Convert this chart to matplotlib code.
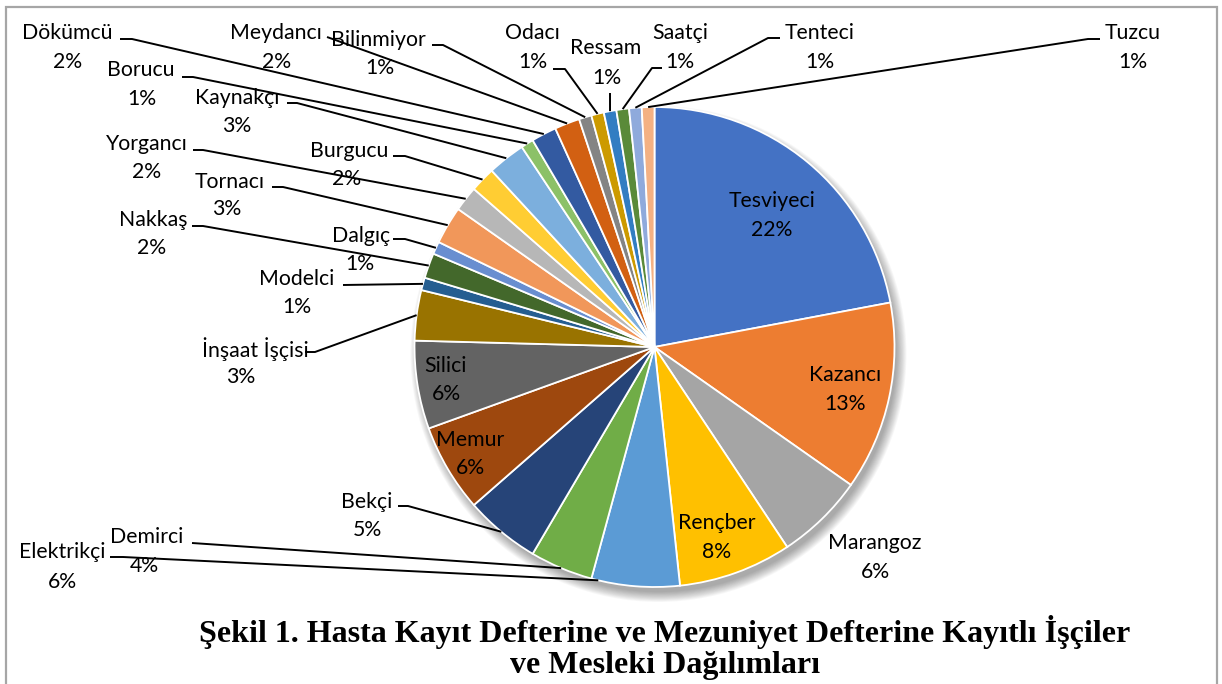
import matplotlib
matplotlib.use("Agg")
import matplotlib.pyplot as plt
from matplotlib.patches import Circle, Rectangle
import numpy as np

# ---------------- data ----------------
categories = ["Tesviyeci", "Kazancı", "Marangoz", "Rençber", "Elektrikçi", "Demirci",
              "Bekçi", "Memur", "Silici", "İnşaat İşçisi", "Modelci", "Nakkaş", "Dalgıç",
              "Tornacı", "Yorgancı", "Burgucu", "Kaynakçı", "Borucu", "Dökümcü",
              "Meydancı", "Bilinmiyor", "Odacı", "Ressam", "Saatçi", "Tenteci", "Tuzcu"]
counts = [26, 15, 7, 9, 7, 5, 6, 7, 7, 4, 1, 2, 1, 3, 2, 2, 3, 1, 2, 2, 1, 1, 1, 1, 1, 1]
colors = ["#4472C4", "#ED7D31", "#A5A5A5", "#FFC000", "#5B9BD5", "#70AD47",
          "#264478", "#9E480E", "#636363", "#997300", "#255E91", "#43682B",
          "#698ED0", "#F1975A", "#B7B7B7", "#FFCD33", "#7CAFDD", "#8CC168",
          "#335AA1", "#D26012", "#848484", "#CC9A00", "#327DC2", "#5A8A39",
          "#8FAADC", "#F4B183"]
title_lines = ["Şekil 1. Hasta Kayıt Defterine ve Mezuniyet Defterine Kayıtlı İşçiler",
               "ve Mesleki Dağılımları"]

# ---------------- layout (image pixel coords, y downward) ----------------
W, H = 1222, 684
CX, CY, R = 654.5, 347, 240

# name position, pct position, leader points (None = no leader), anchor fraction in wedge
layout = {
    "Tesviyeci":     ((772, 201), (772, 230), None, 0.5),
    "Kazancı":       ((845, 375), (845, 404), None, 0.5),
    "Marangoz":      ((875, 543), (875, 572), None, 0.5),
    "Rençber":       ((717, 523), (717, 552), None, 0.5),
    "Elektrikçi":    ((62, 552), (62, 582), [(110, 557), (123, 557)], 0.08),
    "Demirci":       ((147, 537), (144, 566), [(192, 543)], 0.5),
    "Bekçi":         ((367, 502), (367, 530), [(398, 506), (408, 506)], 0.5),
    "Memur":         ((470, 440), (470, 468), None, 0.5),
    "Silici":        ((446, 366), (446, 394), None, 0.5),
    "İnşaat İşçisi": ((255, 349), (241, 377), [(305, 352), (315, 352)], 0.5),
    "Modelci":       ((297, 279), (297, 307), [(343, 285)], 0.5),
    "Nakkaş":        ((153, 220), (152, 248), [(192, 226), (203, 226)], 0.5),
    "Dalgıç":        ((361, 236), (360, 264), [(393, 239), (405, 239)], 0.5),
    "Tornacı":       ((230, 182), (227, 209), [(272, 187), (283, 187)], 0.5),
    "Yorgancı":      ((147, 144), (147, 172), [(193, 150), (203, 150)], 0.5),
    "Burgucu":       ((349, 151), (347, 179), [(393, 156), (405, 156)], 0.5),
    "Kaynakçı":      ((237, 98), (237, 126), [(287, 103), (297, 103)], 0.5),
    "Borucu":        ((141, 70), (142, 99), [(182, 77), (193, 77)], 0.5),
    "Dökümcü":       ((67, 33), (68, 62), [(120, 39), (132, 39)], 0.5),
    "Meydancı":      ((276, 33), (277, 62), [(327, 37)], 0.5),
    "Bilinmiyor":    ((378, 40), (380, 68), [(432, 45), (443, 45)], 0.5),
    "Odacı":         ((532, 33), (533, 62), [(553, 69), (565, 69)], 0.5),
    "Ressam":        ((606, 48), (607, 78), [(610, 93)], 0.5),
    "Saatçi":        ((680, 33), (680, 62), [(662, 68), (652, 68)], 0.5),
    "Tenteci":       ((820, 33), (820, 62), [(780, 38), (768, 38)], 0.5),
    "Tuzcu":         ((1133, 33), (1133, 62), [(1100, 39), (1088, 39)], 0.5),
}


def Y(y):
    return H - y


fig = plt.figure(figsize=(W / 100, H / 100), dpi=100)
ax = fig.add_axes([0, 0, 1, 1])
ax.set_xlim(0, W)
ax.set_ylim(0, H)
ax.set_aspect("equal")
ax.axis("off")

# frame
ax.add_patch(Rectangle((5.5, Y(690)), 1211, 683, fill=False, edgecolor="#A6A6A6",
                       linewidth=1.6, zorder=0))

# soft shadow
for i in range(12):
    ax.add_patch(Circle((CX + 4, Y(CY + 7)), R + 8 - i * 0.9, facecolor="#000000",
                        alpha=0.03, edgecolor="none", zorder=1))

wedges, _ = ax.pie(counts, colors=colors, startangle=90, counterclock=False,
                   center=(CX, Y(CY)), radius=R, frame=True,
                   wedgeprops=dict(edgecolor="white", linewidth=1.3))
for w in wedges:
    w.set_zorder(2)
ax.set_xlim(0, W)
ax.set_ylim(0, H)
ax.axis("off")

total = sum(counts)
font = ["Lato", "DejaVu Sans"]
fs = 15.3
for w, name, c in zip(wedges, categories, counts):
    (nx, ny), (px, py), leader, frac = layout[name]
    pct = f"{round(100 * c / total + 1e-9):.0f}%"
    ax.text(nx, Y(ny), name, ha="center", va="center", fontsize=fs, family=font,
            color="#000000", zorder=5)
    ax.text(px, Y(py), pct, ha="center", va="center", fontsize=fs, family=font,
            color="#000000", zorder=5)
    if leader:
        ang = np.deg2rad(w.theta1 + frac * (w.theta2 - w.theta1))
        axp = CX + R * np.cos(ang)
        ayp = Y(CY) + R * np.sin(ang)
        xs = [p[0] for p in leader] + [axp]
        ys = [Y(p[1]) for p in leader] + [ayp]
        ax.plot(xs, ys, color="black", linewidth=1.4, zorder=4, solid_capstyle="butt")

for line, ty in zip(title_lines, [632, 665]):
    ax.text(665, Y(ty), line, ha="center", va="center", fontsize=23,
            family=["Liberation Serif", "DejaVu Serif"], fontweight="bold", zorder=5)

fig.savefig("out.png", dpi=100)
